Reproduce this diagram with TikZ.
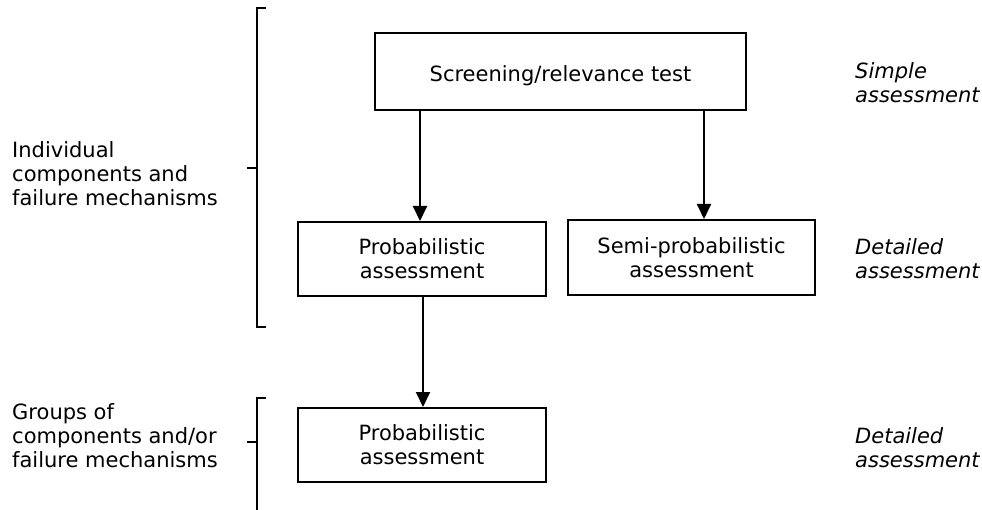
\documentclass[tikz,border=0pt]{standalone}
\usepackage{fontspec}
\setmainfont{DejaVu Sans}
\usetikzlibrary{arrows.meta}
\begin{document}
\begin{tikzpicture}[x=1pt,y=-1pt,
  txt/.style={font=\fontsize{21}{24}\selectfont, inner sep=0pt},
  stepbox/.style={txt, draw, line width=2pt, align=center},
  % multi-line labels are placed by the baseline of their last line
  lbl/.style={txt, align=left, anchor=base west},
  note/.style={lbl, font=\fontsize{21}{24}\selectfont\itshape},
  arr/.style={line width=2pt, -{Triangle[length=15pt,width=14pt]}},
  brk/.style={line width=2pt}]
\useasboundingbox (0,0) rectangle (982,510);

% assessment boxes
\node[stepbox, minimum width=371pt, minimum height=77pt, text height=21pt, text depth=0pt]
  (top) at (560.5,71.5) {Screening/relevance test};
\node[stepbox, minimum width=248pt, minimum height=74pt] (p1) at (422,259) {Probabilistic\\assessment};
\node[stepbox, minimum width=247pt, minimum height=75pt] (semi) at (691.5,257.5) {Semi-probabilistic\\assessment};
\node[stepbox, minimum width=248pt, minimum height=74pt] (p3) at (422,445) {Probabilistic\\assessment};

% arrow columns
\coordinate (cl) at (420,0);
\coordinate (cr) at (704,0);
\coordinate (cb) at (423,0);
\draw[arr] (top.south -| cl) -- (p1.north -| cl);
\draw[arr] (top.south -| cr) -- (semi.north -| cr);
\draw[arr] (p1.south -| cb) -- (p3.north -| cb);

% brackets grouping the levels
\coordinate (b1t) at (257,8);
\coordinate (b1m) at (257,168);
\coordinate (b1b) at (257,327);
\coordinate (b2t) at (257,398);
\coordinate (b2m) at (257,442);
\coordinate (b2b) at (257,512);
\draw[brk] ([xshift=9pt]b1t) -- (b1t) -- (b1b) -- ([xshift=9pt]b1b);
\draw[brk] (b1m) -- ([xshift=-10pt]b1m);
\draw[brk] ([xshift=9pt]b2t) -- (b2t) -- (b2b);
\draw[brk] (b2m) -- ([xshift=-10pt]b2m);

% level labels
\node[lbl] (l1) at (12,205.5) {Individual\\components and\\failure mechanisms};
\node[lbl] (l2) at (12,467) {Groups of\\components and/or\\failure mechanisms};

% assessment type labels
\node[note] (n1) at (855,103) {Simple\\assessment};
\node[note] (n2) at (855,279) {Detailed\\assessment};
\node[note] (n3) at (855,467) {Detailed\\assessment};
\end{tikzpicture}
\end{document}
